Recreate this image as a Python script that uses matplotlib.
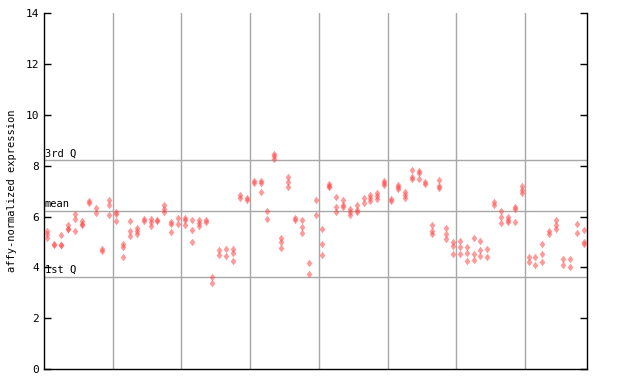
import matplotlib
matplotlib.use('Agg')
import matplotlib.pyplot as plt
from matplotlib.path import Path

# replicate values per sample (79 samples)
samples = [
    [5.43, 5.31, 5.16], [4.92, 4.88], [5.26, 4.9, 4.88], [5.66, 5.52, 5.5],
    [6.1, 5.92, 5.43], [5.81, 5.7, 5.68], [6.6, 6.55], [6.34, 6.13],
    [4.72, 4.65], [6.65, 6.46, 6.06],
    [6.18, 6.11, 5.83], [4.91, 4.82, 4.41], [5.83, 5.43, 5.24], [5.55, 5.44, 5.3],
    [5.89, 5.81], [5.89, 5.77, 5.64], [5.86, 5.84], [6.44, 6.31, 6.18],
    [5.77, 5.7, 5.38], [5.93, 5.7],
    [5.93, 5.85, 5.66], [5.85, 5.46, 4.99], [5.85, 5.73, 5.62], [5.88, 5.77],
    [3.61, 3.4], [4.67, 4.48], [4.71, 4.44], [4.71, 4.56, 4.24],
    [6.84, 6.75], [6.75, 6.67],
    [7.41, 7.34], [7.41, 7.34, 6.96], [6.23, 5.92], [8.46, 8.37, 8.28],
    [5.14, 4.99, 4.75], [7.55, 7.35, 7.15], [5.93, 5.85], [5.85, 5.58, 5.34],
    [4.16, 3.73], [6.64, 6.05],
    [5.5, 4.91, 4.48], [7.3, 7.22, 7.15], [6.76, 6.37, 6.17], [6.64, 6.44, 6.37],
    [6.29, 6.17, 6.05], [6.44, 6.25, 6.17], [6.72, 6.52], [6.84, 6.72, 6.6],
    [6.92, 6.8, 6.68], [7.39, 7.31, 7.23],
    [6.68, 6.6], [7.23, 7.15, 7.07], [6.96, 6.84, 6.72], [7.82, 7.55, 7.47],
    [7.78, 7.7, 7.47], [7.35, 7.27], [5.66, 5.42, 5.3], [7.43, 7.19, 7.11],
    [5.54, 5.3, 5.11], [4.99, 4.86, 4.52],
    [5.03, 4.79, 4.52], [4.79, 4.56, 4.24], [5.14, 4.52, 4.28], [5.03, 4.67, 4.44],
    [4.71, 4.4], [6.56, 6.44], [6.21, 5.97, 5.73], [5.97, 5.87, 5.77],
    [6.37, 6.29, 5.77], [7.19, 7.04, 6.93],
    [4.4, 4.2], [4.4, 4.08], [4.91, 4.52, 4.2], [5.42, 5.3],
    [5.85, 5.66, 5.5], [4.32, 4.11], [4.32, 4.03], [5.7, 5.34],
    [5.46, 4.99, 4.91],
]

q1 = 3.62
mean_val = 6.22
q3 = 8.21
group_size = 10

xs, ys = [], []
for i, vals in enumerate(samples, start=1):
    for v in vals:
        xs.append(i)
        ys.append(v)

# slightly tall diamond like the original pixel marker
diamond = Path([(0, 1), (0.75, 0), (0, -1), (-0.75, 0), (0, 1)],
               [Path.MOVETO, Path.LINETO, Path.LINETO, Path.LINETO, Path.CLOSEPOLY])

fig = plt.figure(figsize=(6.4, 3.84), dpi=100)
ax = fig.add_axes([44 / 640, 15 / 384, 543 / 640, 355.7 / 384])

n = len(samples)
ax.set_xlim(0.5, n + 0.5)
ax.set_ylim(0, 14)

# group separators
for b in range(group_size, n, group_size):
    ax.axvline(b + 0.5, color='#a8a8a8', linewidth=1, zorder=1)

mono = 'DejaVu Sans Mono'
for val, lab in [(q3, '3rd Q'), (mean_val, 'mean'), (q1, '1st Q')]:
    ax.axhline(val, color='#a8a8a8', linewidth=1, zorder=1)
    ax.text(0.6, val + 0.08, lab, fontsize=7.5, family=mono, va='bottom', ha='left')

ax.scatter(xs, ys, marker=diamond, s=30, color='#ff4848', alpha=0.55,
           linewidths=0, zorder=3)

ax.set_xticks([])
ax.set_yticks(range(0, 15, 2))
ax.tick_params(axis='y', direction='in', length=5, width=1, labelsize=8,
               right=True, labelright=False)
for lab in ax.get_yticklabels():
    lab.set_family(mono)
ax.set_ylabel('affy-normalized expression', fontsize=7.5, family=mono, labelpad=6)
for s in ax.spines.values():
    s.set_linewidth(1)
ax.spines['top'].set_visible(False)

fig.savefig('out.png', dpi=100)
